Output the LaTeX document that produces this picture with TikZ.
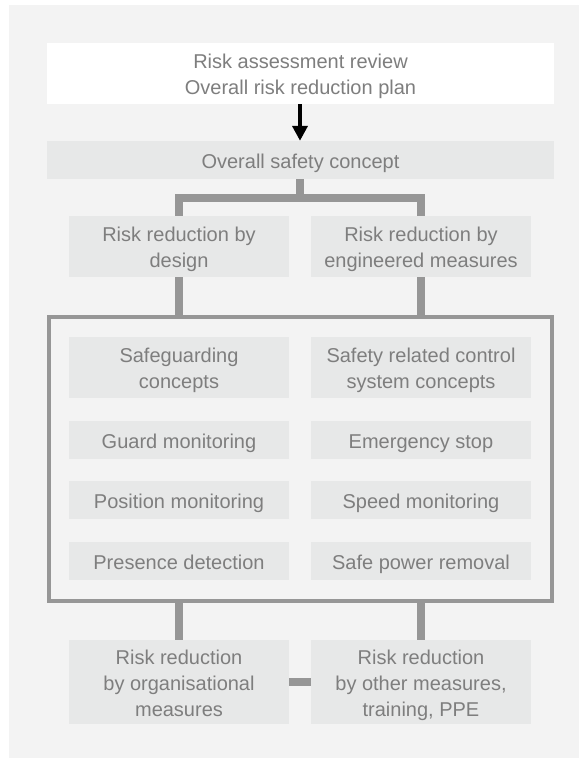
\documentclass[tikz,border=0pt]{standalone}
\usepackage{fontspec}
\setmainfont{Liberation Sans}
\usetikzlibrary{arrows.meta}
\definecolor{bgc}{HTML}{F3F3F3}
\definecolor{boxc}{HTML}{E7E8E8}
\definecolor{linec}{HTML}{969696}
\definecolor{txtc}{HTML}{7E7E7E}
\newcommand{\ms}{\rule[-5pt]{0pt}{26pt}}
\tikzset{
  box/.style={fill=boxc, inner sep=0pt, align=center, text=txtc,
    font=\fontsize{20}{26}\selectfont},
  wbox/.style={box, fill=white},
  conn/.style={draw=linec, line width=8pt},
  frm/.style={draw=linec, line width=4pt, inner sep=0pt},
}
\begin{document}
\begin{tikzpicture}[x=1pt,y=-1pt]
\useasboundingbox (0,0) rectangle (579,758);
\fill[bgc] (9,5) rectangle (579,758);
% top
\node[wbox, minimum width=507pt, minimum height=61pt] (top) at (300.5,73.5) {\ms Risk assessment review\\\ms Overall risk reduction plan};
\node[box, minimum width=507pt, minimum height=38pt] (os) at (300.5,160) {\ms Overall safety concept};
\draw[line width=4pt, -{Triangle[width=15pt,length=15pt]}] (top.south -| 300,0) -- (os.north -| 300,0);
% second row
\node[box, minimum width=220pt, minimum height=61pt] (d1) at (179,246.5) {\ms Risk reduction by\\\ms design};
\node[box, minimum width=220pt, minimum height=61pt] (d2) at (421,246.5) {\ms Risk reduction by\\\ms engineered measures};
\coordinate (bar) at (300,198);
\draw[conn] (os.south -| bar) -- (bar);
\draw[conn] (d1.north) |- (bar) -| (d2.north);
% frame
\node[frm, minimum width=503pt, minimum height=283.5pt] (frame) at (300.5,458.75) {};
\draw[conn] (d1.south) -- (d1.south |- frame.north);
\draw[conn] (d2.south) -- (d2.south |- frame.north);
% inner boxes
\node[box, minimum width=220pt, minimum height=61pt] (s1) at (179,367.5) {\ms Safeguarding\\\ms concepts};
\node[box, minimum width=220pt, minimum height=61pt] (s2) at (421,367.5) {\ms Safety related control\\\ms system concepts};
\node[box, minimum width=220pt, minimum height=38pt] (g1) at (179,440) {\ms Guard monitoring};
\node[box, minimum width=220pt, minimum height=38pt] (g2) at (421,440) {\ms Emergency stop};
\node[box, minimum width=220pt, minimum height=38pt] (p1) at (179,500) {\ms Position monitoring};
\node[box, minimum width=220pt, minimum height=38pt] (p2) at (421,500) {\ms Speed monitoring};
\node[box, minimum width=220pt, minimum height=38pt] (q1) at (179,561) {\ms Presence detection};
\node[box, minimum width=220pt, minimum height=38pt] (q2) at (421,561) {\ms Safe power removal};
% bottom
\node[box, minimum width=220pt, minimum height=84pt] (b1) at (179,682) {\ms Risk reduction\\\ms by organisational\\\ms measures};
\node[box, minimum width=220pt, minimum height=84pt] (b2) at (421,682) {\ms Risk reduction\\\ms by other measures,\\\ms training, PPE};
\draw[conn] (frame.south -| b1.north) -- (b1.north);
\draw[conn] (frame.south -| b2.north) -- (b2.north);
\draw[conn] (b1.east) -- (b2.west);
\end{tikzpicture}
\end{document}
